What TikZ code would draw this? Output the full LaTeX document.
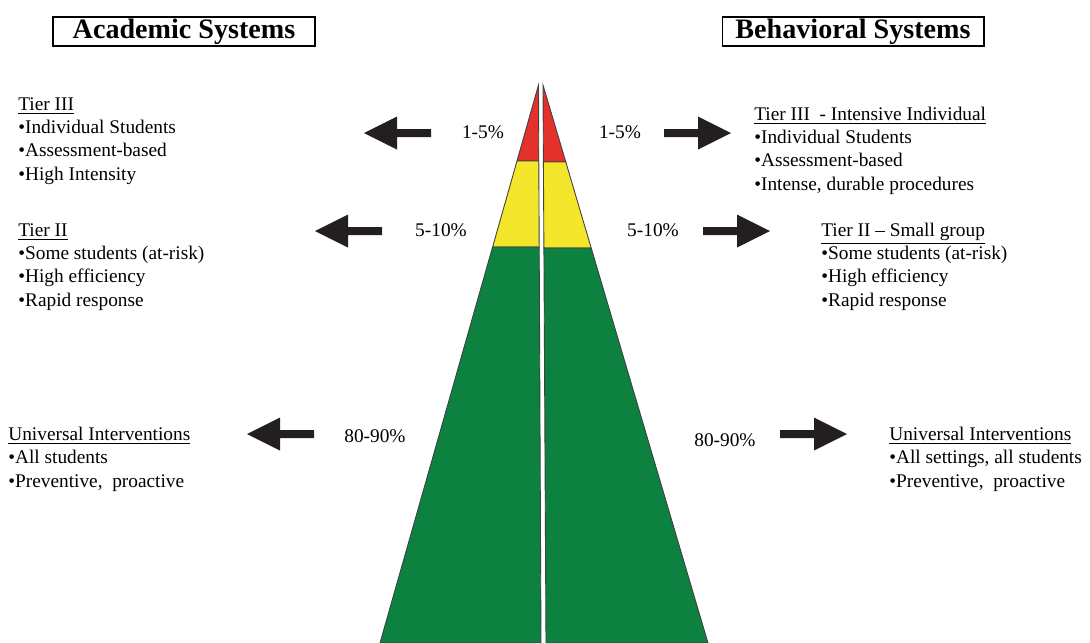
\documentclass[tikz,border=0pt]{standalone}
\usepackage{fontspec}
\setmainfont{Liberation Serif}
\usetikzlibrary{positioning}

\definecolor{tipred}{RGB}{228,49,43}
\definecolor{midyellow}{RGB}{243,230,43}
\definecolor{basegreen}{RGB}{12,129,64}
\definecolor{arrowblack}{RGB}{35,31,32}

\begin{document}
\begin{tikzpicture}[x=0.02cm, y=-0.02cm,
tiertext/.style={anchor=base west, align=left, inner sep=0pt, font=\fontsize{11}{13.2}\selectfont},
pct/.style={anchor=base, inner sep=0pt, font=\fontsize{11}{13.2}\selectfont},
headbox/.style={draw, line width=0.6pt, minimum width=5.24cm, minimum height=0.58cm, inner sep=0pt, font=\fontsize{16}{19}\selectfont\bfseries},
band/.style={draw=black!75, line width=0.5pt}]

\useasboundingbox (0,0) rectangle (1090,643);

% headers
\node [headbox] (acad) at (184,31.5) {Academic Systems};
\node [headbox] (behav) at (853,31.5) {Behavioral Systems};

% left half of the triangle
\coordinate (la) at (538.5,85);
\coordinate (lr1) at (538.8,161);
\coordinate (lo1) at (517,161);
\coordinate (lr2) at (539.2,247);
\coordinate (lo2) at (492.6,247);
\coordinate (lrb) at (541,643);
\coordinate (lob) at (380,643);
\filldraw [band, fill=tipred] (la) -- (lo1) -- (lr1) -- cycle;
\filldraw [band, fill=midyellow] (lo1) -- (lo2) -- (lr2) -- (lr1) -- cycle;
\filldraw [band, fill=basegreen] (lo2) -- (lob) -- (lrb) -- (lr2) -- cycle;

% right half of the triangle
\coordinate (ra) at (543,85);
\coordinate (rl1) at (543.4,162);
\coordinate (ro1) at (565.8,162);
\coordinate (rl2) at (543.9,248);
\coordinate (ro2) at (591.2,248);
\coordinate (rlb) at (546,643);
\coordinate (rob) at (708,643);
\filldraw [band, fill=tipred] (ra) -- (ro1) -- (rl1) -- cycle;
\filldraw [band, fill=midyellow] (rl1) -- (ro1) -- (ro2) -- (rl2) -- cycle;
\filldraw [band, fill=basegreen] (rl2) -- (ro2) -- (rob) -- (rlb) -- cycle;

% block arrows: tip x / y / direction
\foreach \tx/\ty/\d in {364/133/-1, 315/231/-1, 247/434/-1, 731/133/1, 770/231/1, 847/434/1}
{
\fill [arrowblack] (\tx,\ty) -- ({\tx-\d*33},{\ty-16.5}) -- ({\tx-\d*33},{\ty-4}) -- ({\tx-\d*67},{\ty-4})
	-- ({\tx-\d*67},{\ty+4}) -- ({\tx-\d*33},{\ty+4}) -- ({\tx-\d*33},{\ty+16.5}) -- cycle;
}

% percentages
\node [pct] (p1l) at (483,138) {1-5\%};
\node [pct] (p1r) at (620,138) {1-5\%};
\node [pct] (p2l) at (441,236) {5-10\%};
\node [pct] (p2r) at (653,236) {5-10\%};
\node [pct] (p3l) at (375,442) {80-90\%};
\node [pct] (p3r) at (725,446) {80-90\%};

% academic tiers (placed at the baseline of the last line)
\node [tiertext] (acad3) at (18,180) {\underline{Tier III}\\•Individual Students\\•Assessment-based\\•High Intensity};
\node [tiertext] (acad2) at (18,306) {\underline{Tier II}\\•Some students (at-risk)\\•High efficiency\\•Rapid response};
\node [tiertext] (acad1) at (8,487) {\underline{Universal Interventions}\\•All students\\•Preventive,~ proactive};

% behavioral tiers
\node [tiertext] (behav3) at (754,190) {\underline{Tier III~ - Intensive Individual}\\•Individual Students\\•Assessment-based\\•Intense, durable procedures};
\node [tiertext] (behav2) at (821,306) {\underline{Tier II – Small group}\\•Some students (at-risk)\\•High efficiency\\•Rapid response};
\node [tiertext] (behav1) at (889,487) {\underline{Universal Interventions}\\•All settings, all students\\•Preventive,~ proactive};

\end{tikzpicture}
\end{document}
